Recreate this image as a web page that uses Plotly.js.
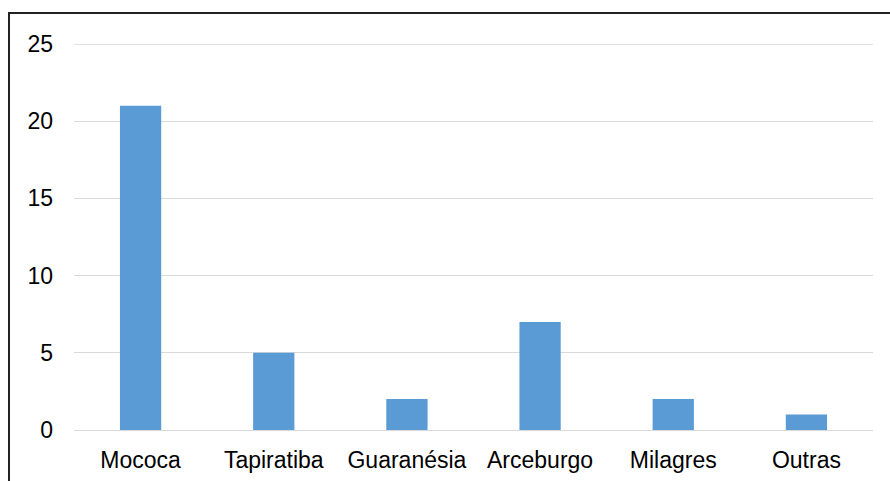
<!DOCTYPE html>
<html>
<head>
<meta charset="utf-8">
<script src="https://cdn.plot.ly/plotly-3.0.1.min.js"></script>
<style>
html,body{margin:0;padding:0;background:#fff;}
#wrap{position:relative;width:890px;height:481px;overflow:hidden;}
#chart{position:absolute;left:0;top:0;width:890px;height:481px;}
#frame{position:absolute;left:8px;top:12px;width:900px;height:500px;border-top:2px solid #222;border-left:2px solid #222;pointer-events:none;}
</style>
</head>
<body>
<div id="wrap"><div id="chart"></div><div id="frame"></div></div>
<script>
var categories = ["Mococa", "Tapiratiba", "Guaranésia", "Arceburgo", "Milagres", "Outras"];
var values = [21, 5, 2, 7, 2, 1];
var tickVals = [0, 5, 10, 15, 20, 25];

var trace = {
  type: "bar",
  x: categories,
  y: values,
  marker: {color: "#5B9BD5"},
  hoverinfo: "x+y"
};

var topTick = tickVals[tickVals.length - 1];

var layout = {
  width: 890,
  height: 481,
  margin: {l: 74, r: 17, t: 44, b: 51},
  paper_bgcolor: "rgba(0,0,0,0)",
  plot_bgcolor: "#fff",
  bargap: 0.69,
  showlegend: false,
  font: {family: "Liberation Sans, Arial, sans-serif", size: 23, color: "#000"},
  xaxis: {
    type: "category",
    showgrid: false,
    showline: false,
    ticks: "",
    tickfont: {size: 23, color: "#000"},
    ticklabelstandoff: 14
  },
  yaxis: {
    range: [0, topTick],
    tickvals: tickVals,
    ticktext: tickVals.map(String),
    showgrid: true,
    gridcolor: "#d9d9d9",
    gridwidth: 1,
    zeroline: true,
    zerolinecolor: "#d9d9d9",
    zerolinewidth: 1,
    showline: false,
    ticks: "",
    tickfont: {size: 23, color: "#000"},
    ticklabelstandoff: 20
  },
  shapes: [{
    type: "line", xref: "paper", yref: "y",
    x0: 0, x1: 1, y0: topTick, y1: topTick,
    line: {color: "#d9d9d9", width: 1.5}, layer: "below"
  }]
};

Plotly.newPlot("chart", [trace], layout, {displayModeBar: false, staticPlot: true});
</script>
</body>
</html>
